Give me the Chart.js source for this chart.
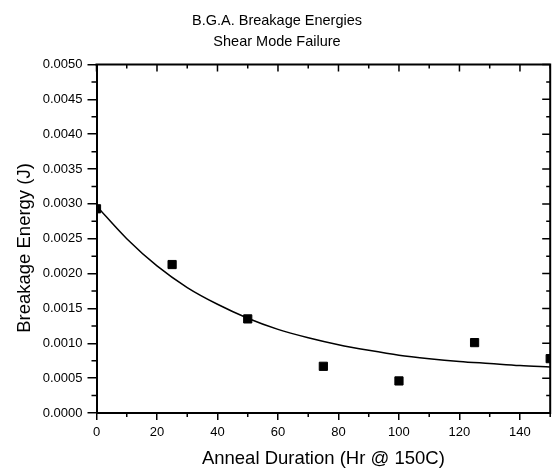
<!DOCTYPE html>
<html>
<head>
<meta charset="utf-8">
<script src="https://cdn.jsdelivr.net/npm/chart.js@4/dist/chart.umd.min.js"></script>
<style>
  html, body { margin: 0; padding: 0; background: #ffffff; }
  #wrap { width: 557px; height: 470px; }
</style>
</head>
<body>
<div id="wrap"><canvas id="c" width="557" height="470"></canvas></div>
<script>
// ---- data ----
const titleLines = ['B.G.A. Breakage Energies', 'Shear Mode Failure'];
const xAxisTitle = 'Anneal Duration (Hr @ 150C)';
const yAxisTitle = 'Breakage Energy (J)';

const annealHours = [0, 25, 50, 75, 100, 125, 150];
const breakageEnergy = [0.00293, 0.00213, 0.00135, 0.00067, 0.00046, 0.00101, 0.00078];

// fitted curve, every 10 h
const curveHours = [0, 10, 20, 30, 40, 50, 60, 70, 80, 90, 100, 110, 120, 130, 140, 150];
const curveEnergy = [0.00297, 0.00250, 0.00211, 0.00180, 0.00156, 0.00136, 0.00120, 0.00108,
                     0.00098, 0.00090, 0.00083, 0.00078, 0.00074, 0.00071, 0.00068, 0.00066];

const xTickValues = [0, 20, 40, 60, 80, 100, 120, 140];
const xMinorTickValues = [10, 30, 50, 70, 90, 110, 130, 150];
const yTickValues = [0, 0.0005, 0.0010, 0.0015, 0.0020, 0.0025, 0.0030, 0.0035, 0.0040, 0.0045, 0.0050];
const yMinorTickValues = [0.00025, 0.00075, 0.00125, 0.00175, 0.00225, 0.00275, 0.00325, 0.00375, 0.00425, 0.00475];

const FONT = "'Liberation Sans', Arial, Helvetica, sans-serif";

const framePlugin = {
  id: 'frame',
  afterDraw(chart) {
    const ctx = chart.ctx;
    const a = chart.chartArea;
    const xs = chart.scales.x, ys = chart.scales.y;
    ctx.save();
    ctx.strokeStyle = '#000';
    // top and right frame lines
    ctx.lineWidth = 2;
    ctx.beginPath();
    ctx.moveTo(a.left - 1, a.top);
    ctx.lineTo(a.right, a.top);
    ctx.lineTo(a.right, a.bottom + 1);
    ctx.stroke();
    ctx.lineWidth = 1.5;
    ctx.beginPath();
    // top ticks (inward)
    xTickValues.forEach(v => { const px = xs.getPixelForValue(v); ctx.moveTo(px, a.top); ctx.lineTo(px, a.top + 7); });
    xMinorTickValues.forEach(v => { const px = xs.getPixelForValue(v); ctx.moveTo(px, a.top); ctx.lineTo(px, a.top + 4); });
    // right ticks (inward)
    yTickValues.forEach(v => { const py = ys.getPixelForValue(v); ctx.moveTo(a.right, py); ctx.lineTo(a.right - 8, py); });
    yMinorTickValues.forEach(v => { const py = ys.getPixelForValue(v); ctx.moveTo(a.right, py); ctx.lineTo(a.right - 4, py); });
    // bottom minor ticks (outward)
    xMinorTickValues.forEach(v => { const px = xs.getPixelForValue(v); ctx.moveTo(px, a.bottom); ctx.lineTo(px, a.bottom + 4); });
    // left minor ticks (outward)
    yMinorTickValues.forEach(v => { const py = ys.getPixelForValue(v); ctx.moveTo(a.left, py); ctx.lineTo(a.left - 5, py); });
    ctx.stroke();
    ctx.restore();
  }
};

new Chart(document.getElementById('c'), {
  type: 'scatter',
  data: {
    datasets: [
      {
        label: 'Measured',
        data: annealHours.map((x, i) => ({ x: x, y: breakageEnergy[i] })),
        pointStyle: 'rect',
        pointRadius: 5.8,
        pointBackgroundColor: '#000',
        pointBorderColor: '#000',
        pointBorderWidth: 1,
        showLine: false,
        order: 1
      },
      {
        label: 'Fit',
        data: curveHours.map((x, i) => ({ x: x, y: curveEnergy[i] })),
        showLine: true,
        borderColor: '#000',
        borderWidth: 1.5,
        pointRadius: 0,
        cubicInterpolationMode: 'monotone',
        fill: false,
        order: 2
      }
    ]
  },
  options: {
    responsive: false,
    devicePixelRatio: 1,
    animation: false,
    layout: { padding: { left: 0, right: 3, top: 0, bottom: 0 } },
    plugins: {
      legend: { display: false },
      tooltip: { enabled: false },
      title: {
        display: true,
        text: titleLines,
        color: '#000',
        font: { family: FONT, size: 14.5, weight: 'normal', lineHeight: 20.5 / 14.5 },
        padding: { top: 10.75, bottom: 12.75 }
      }
    },
    scales: {
      x: {
        type: 'linear',
        min: 0,
        max: 150,
        afterBuildTicks: s => { s.ticks = xTickValues.map(v => ({ value: v })); },
        afterFit: s => { s.height = 57; },
        border: { display: true, color: '#000', width: 2 },
        grid: { display: true, drawOnChartArea: false, drawTicks: true, tickLength: 7, color: '#000', lineWidth: 1.5 },
        ticks: { color: '#000', padding: 5, maxRotation: 0, font: { family: FONT, size: 13 } },
        title: {
          display: true,
          text: xAxisTitle,
          color: '#000',
          font: { family: FONT, size: 18.5, lineHeight: 1.15 },
          padding: { top: 0, bottom: 0 }
        }
      },
      y: {
        type: 'linear',
        min: 0,
        max: 0.005,
        afterBuildTicks: s => { s.ticks = yTickValues.map(v => ({ value: v })); },
        afterFit: s => { s.width = 96.5; },
        border: { display: true, color: '#000', width: 2 },
        grid: { display: true, drawOnChartArea: false, drawTicks: true, tickLength: 9, color: '#000', lineWidth: 1.5 },
        ticks: { color: '#000', padding: 5, font: { family: FONT, size: 13 }, callback: v => Number(v).toFixed(4) },
        title: {
          display: true,
          text: yAxisTitle + '\u2002\u2002',
          color: '#000',
          font: { family: FONT, size: 18.5, lineHeight: 1.15 },
          padding: { top: 14, bottom: 0 }
        }
      }
    }
  },
  plugins: [framePlugin]
});
</script>
</body>
</html>
